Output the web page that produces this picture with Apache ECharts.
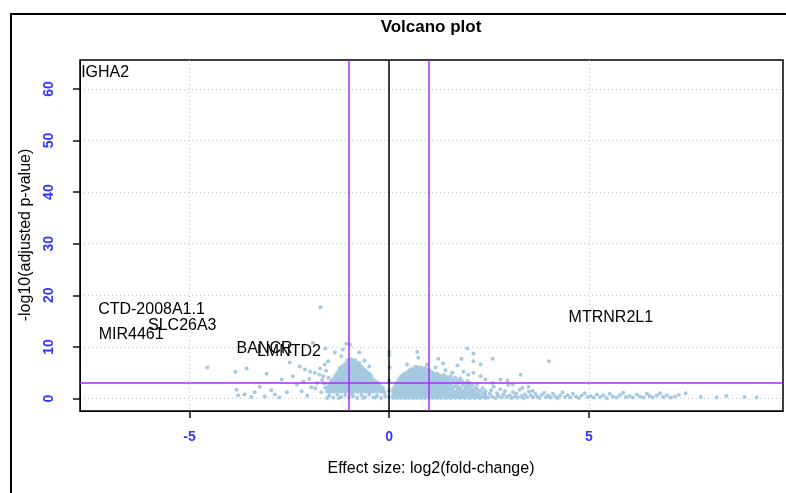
<!DOCTYPE html>
<html>
<head>
<meta charset="utf-8">
<script src="https://cdn.jsdelivr.net/npm/echarts@6/dist/echarts.min.js"></script>
<style>html,body{margin:0;padding:0;background:#fff;}#c{width:786px;height:493px;}</style>
</head>
<body>
<div id="c"></div>
<script>
// ---- data ----
const xTicks = [-5, 0, 5];
const yTicks = [0, 10, 20, 30, 40, 50, 60];
const foldLines = [-1, 1];
const pLine = [3];

const geneNames = ['IGHA2', 'CTD-2008A1.1', 'SLC26A3', 'MIR4461', 'BANCR', 'LMNTD2', 'MTRNR2L1'];
const geneX = [-7.11, -5.95, -5.18, -6.46, -3.12, -2.51, 5.55];
const geneY = [63.1, 17.2, 14.1, 12.4, 9.7, 9.1, 15.7];

// dense cloud left of zero: [x, [y values]]
const leftBlob = [
  [-1.55,[1.4,2.2]],[-1.50,[1.3,1.9,2.7]],[-1.45,[1.4,2.0,2.5,3.2]],[-1.40,[1.3,1.9,2.5,3.1,3.8]],
  [-1.35,[1.5,2.1,2.7,3.3,3.9,4.4]],[-1.30,[1.3,1.9,2.5,3.1,3.7,4.4,5.0]],
  [-1.25,[1.5,2.1,2.7,3.3,3.9,4.5,5.2,5.7]],[-1.20,[1.3,1.9,2.5,3.1,3.7,4.3,4.9,5.6,6.1]],
  [-1.15,[1.5,2.1,2.7,3.3,3.9,4.5,5.1,5.7,6.3]],[-1.10,[1.3,1.9,2.5,3.1,3.7,4.3,4.9,5.5,6.1,6.8]],
  [-1.05,[1.5,2.1,2.7,3.3,3.9,4.5,5.1,5.7,6.3,6.9,7.4]],[-1.00,[1.3,1.9,2.5,3.1,3.7,4.3,4.9,5.5,6.1,6.7,7.3]],
  [-0.95,[1.5,2.1,2.7,3.3,3.9,4.5,5.1,5.7,6.3,6.9,7.6]],[-0.90,[1.3,1.9,2.5,3.1,3.7,4.3,4.9,5.5,6.1,6.7,7.3]],
  [-0.85,[1.5,2.1,2.7,3.3,3.9,4.5,5.1,5.7,6.3,6.9,7.4]],[-0.80,[1.3,1.9,2.5,3.1,3.7,4.3,4.9,5.5,6.1,6.8]],
  [-0.75,[1.5,2.1,2.7,3.3,3.9,4.5,5.1,5.7,6.3,6.9]],[-0.70,[1.3,1.9,2.5,3.1,3.7,4.3,4.9,5.5,6.2]],
  [-0.65,[1.5,2.1,2.7,3.3,3.9,4.5,5.1,5.8]],[-0.60,[1.3,1.9,2.5,3.1,3.7,4.3,4.9,5.5]],
  [-0.55,[1.5,2.1,2.7,3.3,3.9,4.5,5.1]],[-0.50,[1.3,1.9,2.5,3.1,3.7,4.3,4.8]],
  [-0.45,[1.5,2.1,2.7,3.3,3.9,4.4]],[-0.40,[1.3,1.9,2.5,3.1,3.7]],
  [-0.35,[1.5,2.1,2.7,3.3]],[-0.30,[1.3,1.9,2.5,3.1]],
  [-0.25,[1.5,2.1,2.7]],[-0.20,[1.3,1.9,2.3]],[-0.15,[1.5,2.0]]
];

// dense cloud right of zero: [x, [y values]]
const rightBlob = [
  [0.10,[0.1,0.7,1.3,1.9]],[0.15,[0.3,0.9,1.5,2.1,2.6]],[0.20,[0.1,0.7,1.3,1.9,2.5,3.1]],
  [0.25,[0.3,0.9,1.5,2.1,2.7,3.3,3.8]],[0.30,[0.1,0.7,1.3,1.9,2.5,3.1,3.7,4.3]],
  [0.35,[0.3,0.9,1.5,2.1,2.7,3.3,3.9,4.6]],[0.40,[0.1,0.7,1.3,1.9,2.5,3.1,3.7,4.3,4.9]],
  [0.45,[0.3,0.9,1.5,2.1,2.7,3.3,3.9,4.5,5.0]],[0.50,[0.1,0.7,1.3,1.9,2.5,3.1,3.7,4.3,4.9,5.4]],
  [0.55,[0.3,0.9,1.5,2.1,2.7,3.3,3.9,4.5,5.1,5.7]],[0.60,[0.1,0.7,1.3,1.9,2.5,3.1,3.7,4.3,4.9,5.5]],
  [0.65,[0.3,0.9,1.5,2.1,2.7,3.3,3.9,4.5,5.1,5.7,6.1]],[0.70,[0.1,0.7,1.3,1.9,2.5,3.1,3.7,4.3,4.9,5.5,6.1]],
  [0.75,[0.3,0.9,1.5,2.1,2.7,3.3,3.9,4.5,5.1,5.8]],[0.80,[0.1,0.7,1.3,1.9,2.5,3.1,3.7,4.3,4.9,5.5,6.0]],
  [0.85,[0.3,0.9,1.5,2.1,2.7,3.3,3.9,4.5,5.1,5.6]],[0.90,[0.1,0.7,1.3,1.9,2.5,3.1,3.7,4.3,4.9,5.5,5.9]],
  [0.95,[0.3,0.9,1.5,2.1,2.7,3.3,3.9,4.5,5.1,5.6]],[1.00,[0.1,0.7,1.3,1.9,2.5,3.1,3.7,4.3,4.9,5.5]],
  [1.05,[0.3,0.9,1.5,2.1,2.7,3.3,3.9,4.5,5.2]],[1.10,[0.1,0.7,1.3,1.9,2.5,3.1,3.7,4.3,4.9]],
  [1.15,[0.3,0.9,1.5,2.1,2.7,3.3,3.9,4.6]],[1.20,[0.1,0.7,1.3,1.9,2.5,3.1,3.7,4.3,4.8]],
  [1.25,[0.3,0.9,1.5,2.1,2.7,3.3,3.9,4.5]],[1.30,[0.1,0.7,1.3,1.9,2.5,3.1,3.7,4.3]],
  [1.36,[0.3,0.9,1.5,2.1,2.7,3.3,3.9,4.6]],[1.42,[0.1,0.7,1.3,1.9,2.5,3.1,3.7,4.2]],
  [1.48,[0.3,0.9,1.5,2.2,2.8,3.4,4.0]],[1.54,[0.1,0.7,1.3,1.9,2.5,3.6,4.3]],
  [1.60,[0.3,0.9,1.5,2.1,3.0,3.7]],[1.66,[0.1,0.7,1.3,2.4,3.1,4.0]],
  [1.72,[0.3,0.9,1.7,2.3,2.9,3.5]],[1.78,[0.1,0.7,1.3,2.0,3.2,3.9]],
  [1.84,[0.3,0.9,1.5,2.6,3.3]],[1.90,[0.1,0.7,1.4,2.1,2.9]],[1.96,[0.3,0.9,1.8,2.5,3.4]],
  [2.02,[0.1,0.7,1.3,2.2,3.0]],[2.08,[0.3,0.9,1.6,2.6]],[2.14,[0.1,0.8,1.4,2.1]],
  [2.20,[0.3,1.0,1.9,2.7]],[2.27,[0.1,0.7,1.5]],[2.34,[0.3,1.1,2.0]],[2.41,[0.1,0.8,1.4]]
];

const rightTail = [
  [2.48,0.2],[2.52,0.9],[2.55,1.6],[2.58,0.4],[2.62,2.3],[2.66,0.1],[2.70,1.0],[2.73,0.5],[2.78,1.8],
  [2.82,0.2],[2.86,0.8],[2.90,1.4],[2.94,0.3],[2.98,2.6],[3.02,0.6],[3.06,0.1],[3.10,1.2],[3.14,0.4],
  [3.18,0.9],[3.22,0.2],[3.27,1.7],[3.31,0.5],[3.36,0.1],[3.40,0.8],[3.45,0.3],[3.50,1.3],[3.55,0.6],
  [3.60,0.2],[3.66,0.9],[3.71,0.4],[3.76,0.1],[3.82,0.7],[3.88,1.1],[3.93,0.3],[3.98,0.6],[4.04,0.2],
  [4.10,0.9],[4.16,0.4],[4.22,0.1],[4.28,0.6],[4.34,1.2],[4.40,0.3],[4.47,0.7],[4.53,0.2],[4.60,0.9],
  [4.68,0.4],[4.75,0.1],[4.82,0.6],[4.90,1.0],[4.97,0.3],[5.05,0.5],[5.12,0.2],[5.20,0.8],[5.28,0.3],
  [5.36,0.6],[5.45,0.1],[5.52,0.9],[5.60,0.4],[5.70,0.2],[5.78,0.7],[5.86,1.1],[5.93,0.3],[6.02,0.5],
  [6.10,0.2],[6.20,0.8],[6.28,0.4],[6.37,0.2],[6.45,0.9],[6.52,0.5],[6.60,0.2],[6.70,0.6],[6.78,1.0],
  [6.86,0.3],[6.95,0.6],[7.05,0.2],[7.15,0.4],[7.25,0.7],[7.42,1.0],[7.80,0.3],[8.20,0.2],[8.44,0.5],
  [8.90,0.3],[9.20,0.2]
];

const scatterRight = [
  [0.70,9.0],[0.73,7.9],[1.23,7.7],[1.96,9.7],[2.11,8.7],[2.11,7.2],[1.81,7.7],[1.71,6.4],[2.29,6.6],
  [2.59,7.7],[1.16,6.0],[1.41,5.5],[1.58,5.0],[1.86,5.2],[1.98,4.6],[2.11,5.0],[2.29,4.3],[2.41,3.7],
  [2.59,3.0],[2.79,3.7],[2.96,3.5],[3.09,2.7],[3.29,4.6],[3.34,2.1],[3.49,2.3],[3.59,1.5],[4.00,7.2],
  [0.45,6.6],[0.95,6.6],[1.35,6.8]
];

const scatterLeft = [
  [-1.72,17.7],[-4.55,6.0],[-3.57,5.8],[-3.85,5.2],[-3.82,1.7],[-3.24,2.3],[-3.07,4.8],[-2.86,0.8],
  [-2.69,3.7],[-2.41,4.3],[-2.31,2.7],[-2.19,1.4],[-3.62,0.8],[-3.37,1.2],[-3.12,0.4],[-2.56,1.2],
  [-2.49,7.0],[-2.24,6.2],[-2.11,5.6],[-1.98,5.2],[-1.86,5.0],[-1.73,5.8],[-1.61,6.6],[-1.53,7.2],
  [-1.91,10.8],[-1.60,9.7],[-1.36,8.9],[-1.16,9.5],[-0.98,10.4],[-1.07,10.6],[-0.75,8.9],[-1.20,8.2],
  [-0.62,7.3],[-0.50,6.2],[-1.45,3.4],[-1.60,2.1],[-1.70,1.2],[-1.80,3.0],[-1.95,2.2],[-2.05,0.6],
  [-2.00,3.8],[-1.65,4.3],[-2.75,0.2],[-2.95,1.6],[-3.45,0.3],[-3.78,0.6],
  [-1.50,0.6],[-1.40,0.2],[-1.30,0.8],[-1.20,0.3],[-1.10,0.7],[-1.00,0.2],[-0.90,0.5],[-0.80,0.1],
  [-0.70,0.7],[-0.60,0.3],[-0.50,0.8],[-0.40,0.2],[-0.30,0.6],[-0.20,0.1],[-0.10,0.5],[-0.12,1.2],
  [-1.55,0.1],[-1.25,0.1],[-0.95,0.9],[-0.65,0.1],[-0.35,0.2],
  [-1.68,3.6],[-1.75,4.6],[-1.58,5.4],[-1.85,2.0],[-2.15,3.3],[-1.62,2.9],[-1.52,4.0]
];

const onZero = [[0.0,9.0],[0.0,8.4],[0.01,6.0],[0.0,3.5],[0.0,1.5],[0.0,0.3]];

// ---- build ----
function cols(c) { return c.flatMap(function (e) { return e[1].map(function (y) { return [e[0], y]; }); }); }
const points = [].concat(cols(leftBlob), cols(rightBlob), rightTail, scatterRight, scatterLeft, onZero);

const FONT = '"Liberation Sans", Arial, Helvetica, sans-serif';
const X_MIN = -7.74, X_MAX = 9.86, Y_MIN = -2.42, Y_MAX = 65.6;
const chart = echarts.init(document.getElementById('c'), null, { renderer: 'canvas' });

const option = {
  animation: false,
  grid: { left: 80, right: 3, top: 60, bottom: 82, show: true, borderColor: '#000', borderWidth: 1.5 },
  xAxis: {
    type: 'value', min: X_MIN, max: X_MAX,
    axisLine: { show: true, onZero: false, lineStyle: { color: '#000' } },
    axisTick: { show: true, customValues: xTicks, length: 7, lineStyle: { color: '#111', width: 1.5 } },
    axisLabel: { show: true, customValues: xTicks, color: '#3636ff', fontWeight: 'bold', fontSize: 14, fontFamily: FONT, margin: 19 },
    splitLine: { show: true, lineStyle: { type: [1, 3], color: '#c4c4c4', width: 1 } }
  },
  yAxis: {
    type: 'value', min: Y_MIN, max: Y_MAX,
    axisLine: { show: true, onZero: false, lineStyle: { color: '#000' } },
    axisTick: { show: true, customValues: yTicks, length: 7, lineStyle: { color: '#111', width: 1.5 } },
    axisLabel: { show: true, customValues: yTicks, rotate: 90, color: '#3636ff', fontWeight: 'bold', fontSize: 14, fontFamily: FONT, margin: 24 },
    splitLine: { show: true, lineStyle: { type: [1, 3], color: '#c4c4c4', width: 1 } }
  },
  graphic: [
    { type: 'polyline', silent: true, shape: { points: [[11, 520], [11, 14], [820, 14]] }, style: { stroke: '#000', lineWidth: 2, fill: null } },
    { type: 'text', x: 431, y: 27, style: { text: 'Volcano plot', font: 'bold 17px ' + FONT, fill: '#000', textAlign: 'center', textVerticalAlign: 'middle' } },
    { type: 'text', x: 431, y: 469, style: { text: 'Effect size: log2(fold-change)', font: '16px ' + FONT, fill: '#000', textAlign: 'center', textVerticalAlign: 'middle' } },
    { type: 'text', x: 26, y: 235, rotation: Math.PI / 2, style: { text: '-log10(adjusted p-value)', font: '16px ' + FONT, fill: '#000', textAlign: 'center', textVerticalAlign: 'middle' } }
  ],
  series: [
    {
      type: 'scatter', data: points, symbol: 'circle', symbolSize: 4,
      itemStyle: { color: '#a6c9e2', opacity: 1 }, silent: true
    },
    {
      type: 'scatter', data: [], silent: true,
      markLine: {
        silent: true, symbol: ['none', 'none'], label: { show: false }, animation: false,
        lineStyle: { color: '#a030f0', width: 1.5, type: 'solid', opacity: 1 },
        data: foldLines.map(function (v) { return { xAxis: v }; }).concat(pLine.map(function (v) { return { yAxis: v }; }))
      }
    },
    {
      type: 'scatter', data: [], silent: true,
      markLine: {
        silent: true, symbol: ['none', 'none'], label: { show: false }, animation: false,
        lineStyle: { color: '#000', width: 1.5, type: 'solid', opacity: 1 },
        data: [{ xAxis: 0 }]
      }
    },
    {
      type: 'scatter', silent: true, symbolSize: 1, itemStyle: { color: 'rgba(0,0,0,0)', opacity: 1 },
      data: geneNames.map(function (n, i) { return { name: n, value: [geneX[i], geneY[i]] }; }),
      label: { show: true, position: 'inside', formatter: '{b}', color: '#000', opacity: 1, textBorderWidth: 0, fontSize: 16, fontFamily: FONT }
    }
  ]
};
chart.setOption(option);
</script>
</body>
</html>
